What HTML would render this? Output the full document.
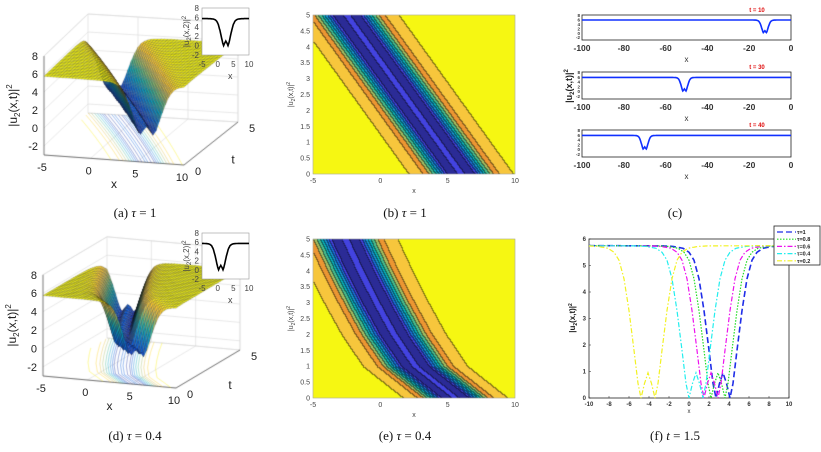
<!DOCTYPE html>
<html><head><meta charset="utf-8">
<style>
html,body{margin:0;padding:0;background:#fff;}
#wrap{position:relative;width:821px;height:452px;overflow:hidden;}
canvas,svg{position:absolute;left:0;top:0;}
text{font-family:"Liberation Sans",sans-serif;}
.cap{font-family:"Liberation Serif",serif;font-size:13px;fill:#111;}
</style></head><body>
<div id="wrap">
<canvas id="cv" width="821" height="452"></canvas>
<svg id="sv" width="821" height="452" xmlns="http://www.w3.org/2000/svg"></svg>
</div>
<script>
// ---- data ----
var profileOffsets=[-14,-6,-5,-4,-3.4,-2.9,-2.4,-1.9,-1.4,-1.0,-0.7,-0.35,0,0.35,0.7,1.0,1.4,1.9,2.4,2.9,3.4,4,5,6,14];
var profileValues=[5.75,5.74,5.72,5.65,5.5,5.2,4.5,3.3,1.8,0.55,0,0.55,0.95,0.55,0,0.55,1.8,3.3,4.5,5.2,5.5,5.65,5.72,5.74,5.75];
var tSamples=[0,1,2,3,4,5];
var centersTau1=[6.0,4.3,2.6,0.9,-0.8,-2.5];
var centersTau04=[5.6,2.6,1.0,-0.3,-1.5,-2.6];
var levelEdges=[0.64,1.28,1.92,2.56,3.2,3.84,4.48,5.12,5.62];
var levelColors=[[43,43,150],[67,67,224],[26,111,216],[21,148,207],[9,176,184],[70,189,143],[163,190,98],[236,150,50],[247,198,60],[246,247,18]];
var cDipCenters=[-12.5,-51,-70];
var cTimes=['t = 10','t = 30','t = 40'];
var fSeriesNames=['=1','=0.8','=0.6','=0.4','=0.2'];
var fSeriesCenters=[3.4,2.9,2.2,0.7,-4.1];
var fSeriesColors=['#1f2de8','#22dd22','#ee11ee','#22eeee','#f2f222'];
var fSeriesDash=['6,3','1.5,1.5','5,2,1.5,2','5,2,1.5,2','5,2,1.5,2'];
var fXTicks=[-10,-8,-6,-4,-2,0,2,4,6,8,10];
var fYTicks=[0,1,2,3,4,5,6];
var contXTicks=[-5,0,5,10];
var contYTicks=[0,0.5,1,1.5,2,2.5,3,3.5,4,4.5,5];
var cXTicks=[-100,-80,-60,-40,-20,0];
var s3ZTicks=[8,6,4,2,0,-2];

// ---- helpers ----
var SVGNS='http://www.w3.org/2000/svg';
var sv=document.getElementById('sv');
var ctx=document.getElementById('cv').getContext('2d');
function el(tag,attrs,parent){var e=document.createElementNS(SVGNS,tag);for(var k in attrs)e.setAttribute(k,attrs[k]);(parent||sv).appendChild(e);return e;}
function txt(x,y,s,size,anchor,extra){var t=el('text',{x:x,y:y,'font-size':size,'text-anchor':anchor||'middle',fill:'#222'});if(extra)for(var k in extra)t.setAttribute(k,extra[k]);t.textContent=s;


return t;}
function interp(xs,ys,x){if(x<=xs[0])return ys[0];for(var i=1;i<xs.length;i++){if(x<=xs[i]){var f=(x-xs[i-1])/(xs[i]-xs[i-1]);return ys[i-1]+f*(ys[i]-ys[i-1]);}}return ys[ys.length-1];}
function prof(d){return interp(profileOffsets,profileValues,d);}
var parStops=[[0,[53,42,135]],[0.125,[15,92,221]],[0.25,[20,129,214]],[0.375,[6,164,202]],[0.5,[46,183,164]],[0.625,[135,191,119]],[0.75,[209,187,89]],[0.875,[254,200,50]],[1,[249,251,14]]];
function parula(f){f=Math.max(0,Math.min(1,f));for(var i=1;i<parStops.length;i++){if(f<=parStops[i][0]){var a=parStops[i-1],b=parStops[i];var g=(f-a[0])/(b[0]-a[0]);return 'rgb('+[0,1,2].map(function(k){return Math.round(a[1][k]+g*(b[1][k]-a[1][k]));}).join(',')+')';}}return 'rgb(249,251,14)';}
function levelOf(v){var l=0;while(l<levelEdges.length&&v>levelEdges[l])l++;return l;}
function rgb(c,m){return 'rgb('+Math.round(c[0]*m)+','+Math.round(c[1]*m)+','+Math.round(c[2]*m)+')';}

// ---- contour panels (b),(e) ----
function contour(x0,x1,y0,y1,centers,name){
  var W=x1-x0,H=y1-y0;var lv=[];
  for(var j=0;j<H;j++){lv[j]=[];var t=5*(1-(j+0.5)/H);var c=interp(tSamples,centers,t);
    for(var i=0;i<W;i++){var x=-5+15*(i+0.5)/W;lv[j][i]=levelOf(prof(x-c));}}
  for(var j=0;j<H;j++)for(var i=0;i<W;i++){var L=lv[j][i];var edge=(i>0&&lv[j][i-1]!=L)||(j>0&&lv[j-1][i]!=L);
    ctx.fillStyle=rgb(levelColors[L],edge?0.55:1);ctx.fillRect(x0+i,y0+j,1,1);}
  var g=el('g',{});
  
  
  el('rect',{x:x0,y:y0,width:W,height:H,fill:'none',stroke:'#999','stroke-width':0.5},g);
  contXTicks.forEach(function(v){var px=x0+(v+5)/15*W;txt(px,y1+9,v,7,'middle').setAttribute('fill','#444');});
  contYTicks.forEach(function(v){var py=y1-v/5*H;txt(x0-3,py+2.5,v,7,'end').setAttribute('fill','#444');});
  txt((x0+x1)/2,y1+19,'x',7,'middle').setAttribute('fill','#444');
  var yl=txt(0,0,'',7,'middle',{transform:'translate('+(x0-20)+','+((y0+y1)/2)+') rotate(-90)',fill:'#444'});
  yl.innerHTML='|u<tspan font-size="5" dy="2">2</tspan><tspan dy="-2">(x,t)|</tspan><tspan font-size="5" dy="-3">2</tspan>';
}
contour(313,515,15,174,centersTau1,'contour-tau-1');
contour(313,515,239,398,centersTau04,'contour-tau-0.4');

// ---- 3D surfaces (a),(d) ----
function surf3d(A,B,C,D,zs,centers,name,insetBox,insetCenterT){
  function P(x,t,z){var u=(x+5)/15,v=t/5;
    var sx=(1-u)*(1-v)*A[0]+u*(1-v)*B[0]+u*v*C[0]+(1-u)*v*D[0];
    var sy=(1-u)*(1-v)*A[1]+u*(1-v)*B[1]+u*v*C[1]+(1-u)*v*D[1];
    return [sx,sy-(z+3)*zs];}
  ctx.strokeStyle='#d8d8d8';ctx.lineWidth=0.6;
  function ln(p,q){ctx.beginPath();ctx.moveTo(p[0],p[1]);ctx.lineTo(q[0],q[1]);ctx.stroke();}
  for(var z=-2;z<=8;z+=2){ln(P(-5,0,z),P(-5,5,z));ln(P(-5,5,z),P(10,5,z));}
  [0,5,10].forEach(function(x){ln(P(x,5,-3),P(x,5,8));ln(P(x,0,-3),P(x,5,-3));});
  [0,5].forEach(function(t){ln(P(-5,t,-3),P(10,t,-3));});
  ln(P(-5,0,8),P(-5,5,8));ln(P(-5,5,8),P(10,5,8));ln(P(-5,5,-3),P(-5,5,8));ln(P(10,5,-3),P(10,5,8));ln(P(-5,5,-3),P(10,5,-3));
  ctx.strokeStyle='#555';ctx.lineWidth=0.8;
  ln(P(-5,0,-3),P(10,0,-3));ln(P(10,0,-3),P(10,5,-3));ln(P(-5,0,-3),P(-5,0,8));
  var lvls=[0.3,0.8,1.5,2.3,3.1,3.9,4.6,5.2,5.6];
  lvls.forEach(function(L){[-1,1].forEach(function(side){[0,1].forEach(function(inner){
    var off=null;
    if(inner){if(L>0.9)return;for(var d=0;d<=0.7;d+=0.01){if(prof(side*d)<=L){off=side*d;break;}}}
    else{for(var d=0.7;d<6;d+=0.01){if(prof(side*d)>=L){off=side*d;break;}}}
    if(off===null)return;
    ctx.strokeStyle=parula(L/5.76);ctx.globalAlpha=0.75;ctx.lineWidth=0.6;ctx.beginPath();var st=false;
    for(var t=0;t<=5.001;t+=0.05){var x=interp(tSamples,centers,t)+off;if(x<-5||x>10){st=false;continue;}var p=P(x,t,-3);if(!st){ctx.moveTo(p[0],p[1]);st=true;}else ctx.lineTo(p[0],p[1]);}
    ctx.stroke();ctx.globalAlpha=1;});});});
  var nx=45,nt=30,quads=[];
  for(var i=0;i<nx;i++)for(var j=0;j<nt;j++){var xa=-5+15*i/nx,xb=-5+15*(i+1)/nx,ta=5*j/nt,tb=5*(j+1)/nt;
    var za=[[xa,ta],[xb,ta],[xb,tb],[xa,tb]].map(function(q){return [q[0],q[1],prof(q[0]-interp(tSamples,centers,q[1]))];});
    quads.push({pts:za,depth:(10-(xa+xb)/2)/15+(ta+tb)/2/5});}
  quads.sort(function(a,b){return b.depth-a.depth;});
  quads.forEach(function(q){var zav=(q.pts[0][2]+q.pts[1][2]+q.pts[2][2]+q.pts[3][2])/4;
    ctx.beginPath();q.pts.forEach(function(p,k){var s=P(p[0],p[1],p[2]);if(k==0)ctx.moveTo(s[0],s[1]);else ctx.lineTo(s[0],s[1]);});ctx.closePath();
    ctx.fillStyle=parula(zav/5.76);ctx.fill();ctx.strokeStyle='rgba(15,15,15,0.55)';ctx.lineWidth=0.35;ctx.stroke();});
  var g=el('g',{});
  
  
  s3ZTicks.forEach(function(z){var p=P(-5,0,z);txt(p[0]-6,p[1]+4,z,11,'end');});
  [-5,0,5,10].forEach(function(x){var p=P(x,0,-3);txt(p[0]-2,p[1]+16,x,11,'middle');});
  [0,5].forEach(function(t){var p=P(10,t,-3);txt(p[0]+14,p[1]+10,t,11,'middle');});
  var px=P(2.5,0,-3);txt(px[0],px[1]+28,'x',12,'middle');
  var pt=P(10,2.5,-3);txt(pt[0]+22,pt[1]+20,'t',12,'middle');
  var zc=P(-5,0,2.5);
  var yl=txt(0,0,'',12,'middle',{transform:'translate('+(zc[0]-27)+','+zc[1]+') rotate(-90)'});
  yl.innerHTML='|u<tspan font-size="8" dy="3">2</tspan><tspan dy="-3">(x,t)|</tspan><tspan font-size="8" dy="-5">2</tspan>';
  var bx=insetBox[0],by=insetBox[1],bw=insetBox[2],bh=insetBox[3];
  el('rect',{x:bx,y:by,width:bw,height:bh,fill:'#fff',stroke:'#999','stroke-width':0.6},g);
  [8,6,4,2,0,-2].forEach(function(v){txt(bx-3,by+(8-v)/10*bh+3,v,8,'end',{fill:'#444'});});
  [-5,0,5,10].forEach(function(v){txt(bx+(v+5)/15*bw,by+bh+12,v,8,'middle',{fill:'#444'});});
  txt(bx+bw*0.6,by+bh+24,'x',9,'middle',{fill:'#444'});
  var il=txt(0,0,'',8,'middle',{transform:'translate('+(bx-13)+','+(by+bh/2)+') rotate(-90)',fill:'#444'});
  il.innerHTML='|u<tspan font-size="6" dy="2">2</tspan><tspan dy="-2">(x,2)|</tspan><tspan font-size="6" dy="-3">2</tspan>';
  var c=interp(tSamples,centers,insetCenterT),d='';
  for(var x=-5;x<=10.001;x+=0.1){var v=prof(x-c);d+=(d?'L':'M')+(bx+(x+5)/15*bw).toFixed(1)+','+(by+(8-v)/10*bh).toFixed(1);}
  var pth=el('path',{d:d,fill:'none',stroke:'#000','stroke-width':1.6},g);
  
  
}
surf3d([44,155],[184,165],[238,122],[88,113],9,centersTau1,'surface-tau-1',[202,8,47,47],2);
surf3d([43,376],[176,388],[240,350],[107,338],9.2,centersTau04,'surface-tau-0.4',[202,233,47,46],2);

// ---- panel (c) ----
(function(){
  var x0=582,x1=791,boxes=[[15,40],[72,99],[130,157]];
  var g=el('g',{});
  
  
  boxes.forEach(function(b,k){
    var y0=b[0],y1=b[1];function Y(v){return y0+(8-v)/11.25*(y1-y0);}function X(x){return x0+(x+100)/100*(x1-x0);}
    var r=el('rect',{x:x0,y:y0,width:x1-x0,height:y1-y0,fill:'none',stroke:'#222','stroke-width':0.8},g);
    
    
    cXTicks.forEach(function(v){txt(X(v),y1+11,v,8.5,'middle',{'font-weight':'bold',fill:'#333'});});
    [8,6,4,2,0,-2].forEach(function(v){txt(x0-2,Y(v)+2,v,4.5,'end',{'font-weight':'bold',fill:'#333'});});
    txt((x0+x1)/2,y1+22,'x',8,'middle',{fill:'#333'});
    txt(757,y0-3,cTimes[k],6,'middle',{fill:'#e01010','font-weight':'bold'});
    var d='';for(var x=-100;x<=0.001;x+=0.25){var v=prof(x-cDipCenters[k]);d+=(d?'L':'M')+X(x).toFixed(1)+','+Y(v).toFixed(1);}
    var p=el('path',{d:d,fill:'none',stroke:'#1030ff','stroke-width':1.6},g);
    
    
  });
  var yl=txt(0,0,'',9,'middle',{transform:'translate(572,86) rotate(-90)','font-weight':'bold'});
  yl.innerHTML='|u<tspan font-size="6" dy="2">2</tspan><tspan dy="-2">(x,t)|</tspan><tspan font-size="6" dy="-4">2</tspan>';
})();

// ---- panel (f) ----
(function(){
  var x0=589,x1=789,y0=239,y1=398;function X(x){return x0+(x+10)/20*(x1-x0);}function Y(v){return y1-v/6*(y1-y0);}
  var g=el('g',{});
  
  
  var r=el('rect',{x:x0,y:y0,width:x1-x0,height:y1-y0,fill:'none',stroke:'#222','stroke-width':0.8},g);
  
  
  fXTicks.forEach(function(v){txt(X(v),y1+8,v,6,'middle',{'font-weight':'bold',fill:'#333'});
    el('line',{x1:X(v),x2:X(v),y1:y1,y2:y1-2,stroke:'#222','stroke-width':0.5},g);});
  fYTicks.forEach(function(v){txt(x0-3,Y(v)+2,v,6,'end',{'font-weight':'bold',fill:'#333'});
    el('line',{x1:x0,x2:x0+2,y1:Y(v),y2:Y(v),stroke:'#222','stroke-width':0.5},g);});
  txt((x0+x1)/2,y1+15,'x',6,'middle',{fill:'#333'});
  var yl=txt(0,0,'',8,'middle',{transform:'translate(575,318) rotate(-90)','font-weight':'bold'});
  yl.innerHTML='|u<tspan font-size="5" dy="2">2</tspan><tspan dy="-2">(x,t)|</tspan><tspan font-size="5" dy="-3">2</tspan>';
  fSeriesCenters.forEach(function(c,k){
    var d='';for(var x=-10;x<=10.001;x+=0.05){d+=(d?'L':'M')+X(x).toFixed(1)+','+Y(prof(x-c)).toFixed(1);}
    var p=el('path',{d:d,fill:'none',stroke:fSeriesColors[k],'stroke-width':k==0?1.6:1.2,'stroke-dasharray':fSeriesDash[k]},g);
    
    
  });
  var lg=el('g',{},g);
  
  
  el('rect',{x:774,y:226,width:46,height:39,fill:'#fff',stroke:'#222','stroke-width':0.8},lg);
  fSeriesNames.forEach(function(n,k){var yy=232+k*7.2;
    var l=el('line',{x1:777,x2:796,y1:yy,y2:yy,stroke:fSeriesColors[k],'stroke-width':1.2,'stroke-dasharray':fSeriesDash[k]},lg);
    
    
    txt(797,yy+2,'\u03c4'+n,5.5,'start',{'font-weight':'bold',fill:'#222'});});
})();

// ---- captions ----
[['(a) ','τ',' = 1',135,217],['(b) ','τ',' = 1',405,217],['(c)','','',675,217],['(d) ','τ',' = 0.4',135,440],['(e) ','τ',' = 0.4',405,440],['(f) ','t',' = 1.5',675,440]].forEach(function(c){
  var t=el('text',{x:c[3],y:c[4],'text-anchor':'middle','class':'cap'});
  
  
  t.innerHTML=c[0]+'<tspan font-style="italic">'+c[1]+'</tspan>'+c[2];
});
</script>
</body></html>
